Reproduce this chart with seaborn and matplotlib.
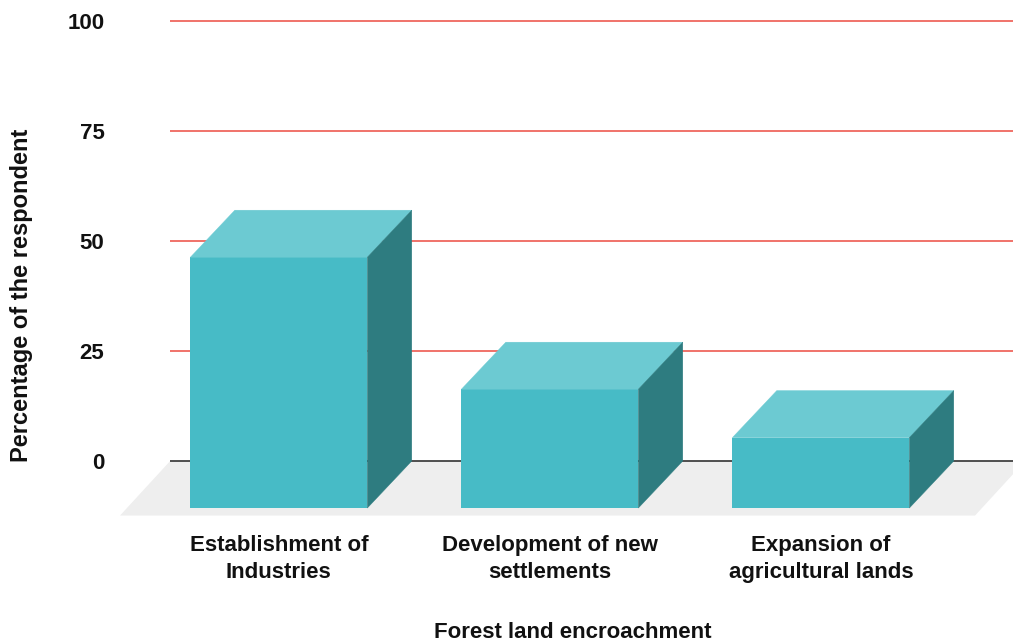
import numpy as np
import matplotlib
matplotlib.use("Agg")
import matplotlib.pyplot as plt
import seaborn as sns
from matplotlib.patches import Polygon

# data
categories = ["Establishment of\nIndustries", "Development of new\nsettlements", "Expansion of\nagricultural lands"]
values = [57, 27, 16]
yticks = [0, 25, 50, 75, 100]

front_col = "#47bbc6"
top_col = "#6ccad2"
side_col = "#2e7c80"
txt = "#111111"

sns.set_theme(style="white")
plt.rcParams["font.family"] = ["Liberation Sans", "DejaVu Sans"]

fig = plt.figure(figsize=(10.13, 6.43), dpi=100)
ax = fig.add_axes([110 / 1013, 118 / 643, 903 / 1013, 515 / 643])

W = 0.653       # bar width (categories)
dx = 0.164      # depth offset in x
dy = 10.7       # depth offset in y

# floor
floor = Polygon([(-0.565, 0), (2.59, 0), (2.405, -12.4), (-0.75, -12.4)],
                closed=True, facecolor="#eeeeee", edgecolor="none", zorder=0)
ax.add_patch(floor)

# gridlines
for t in yticks:
    ax.hlines(t, -0.565, 2.6, color="#333333" if t == 0 else "#ee5a50",
              lw=1.2, zorder=1)

sns.barplot(x=categories, y=values, width=W, color=front_col, saturation=1,
            ax=ax, zorder=3, linewidth=0)

for p in ax.containers[0]:
    x0 = p.get_x()
    x1 = x0 + p.get_width()
    v = p.get_height()
    p.set_x(x0 - dx)
    p.set_y(-dy)
    top = Polygon([(x0 - dx, v - dy), (x0, v), (x1, v), (x1 - dx, v - dy)],
                  closed=True, facecolor=top_col, edgecolor=top_col, lw=0.3, zorder=3)
    side = Polygon([(x1 - dx, v - dy), (x1, v), (x1, 0), (x1 - dx, -dy)],
                   closed=True, facecolor=side_col, edgecolor=side_col, lw=0.3, zorder=3)
    ax.add_patch(top)
    ax.add_patch(side)

ax.set_xlim(-0.787, 2.545)
ax.set_ylim(-14.55, 102.5)
for s in ax.spines.values():
    s.set_visible(False)

ax.set_yticks(yticks)
ax.set_yticklabels([str(t) for t in yticks], fontsize=16, fontweight="bold", color=txt)
ax.set_xticks([i - dx for i in range(len(categories))])
ax.set_xticklabels(categories, fontsize=16, fontweight="bold", color=txt, linespacing=1.4)
ax.tick_params(axis="y", length=0, pad=4)
ax.tick_params(axis="x", length=0, pad=7)

ax.set_xlabel("")
fig.text(573 / 1013, 1 - 633 / 643, "Forest land encroachment", ha="center", va="center",
         fontsize=16, fontweight="bold", color=txt)
fig.text(22 / 1013, 1 - 295 / 643, "Percentage of the respondent", rotation=90,
         ha="center", va="center", fontsize=17, fontweight="bold", color=txt)

fig.savefig("out.png", dpi=100)
